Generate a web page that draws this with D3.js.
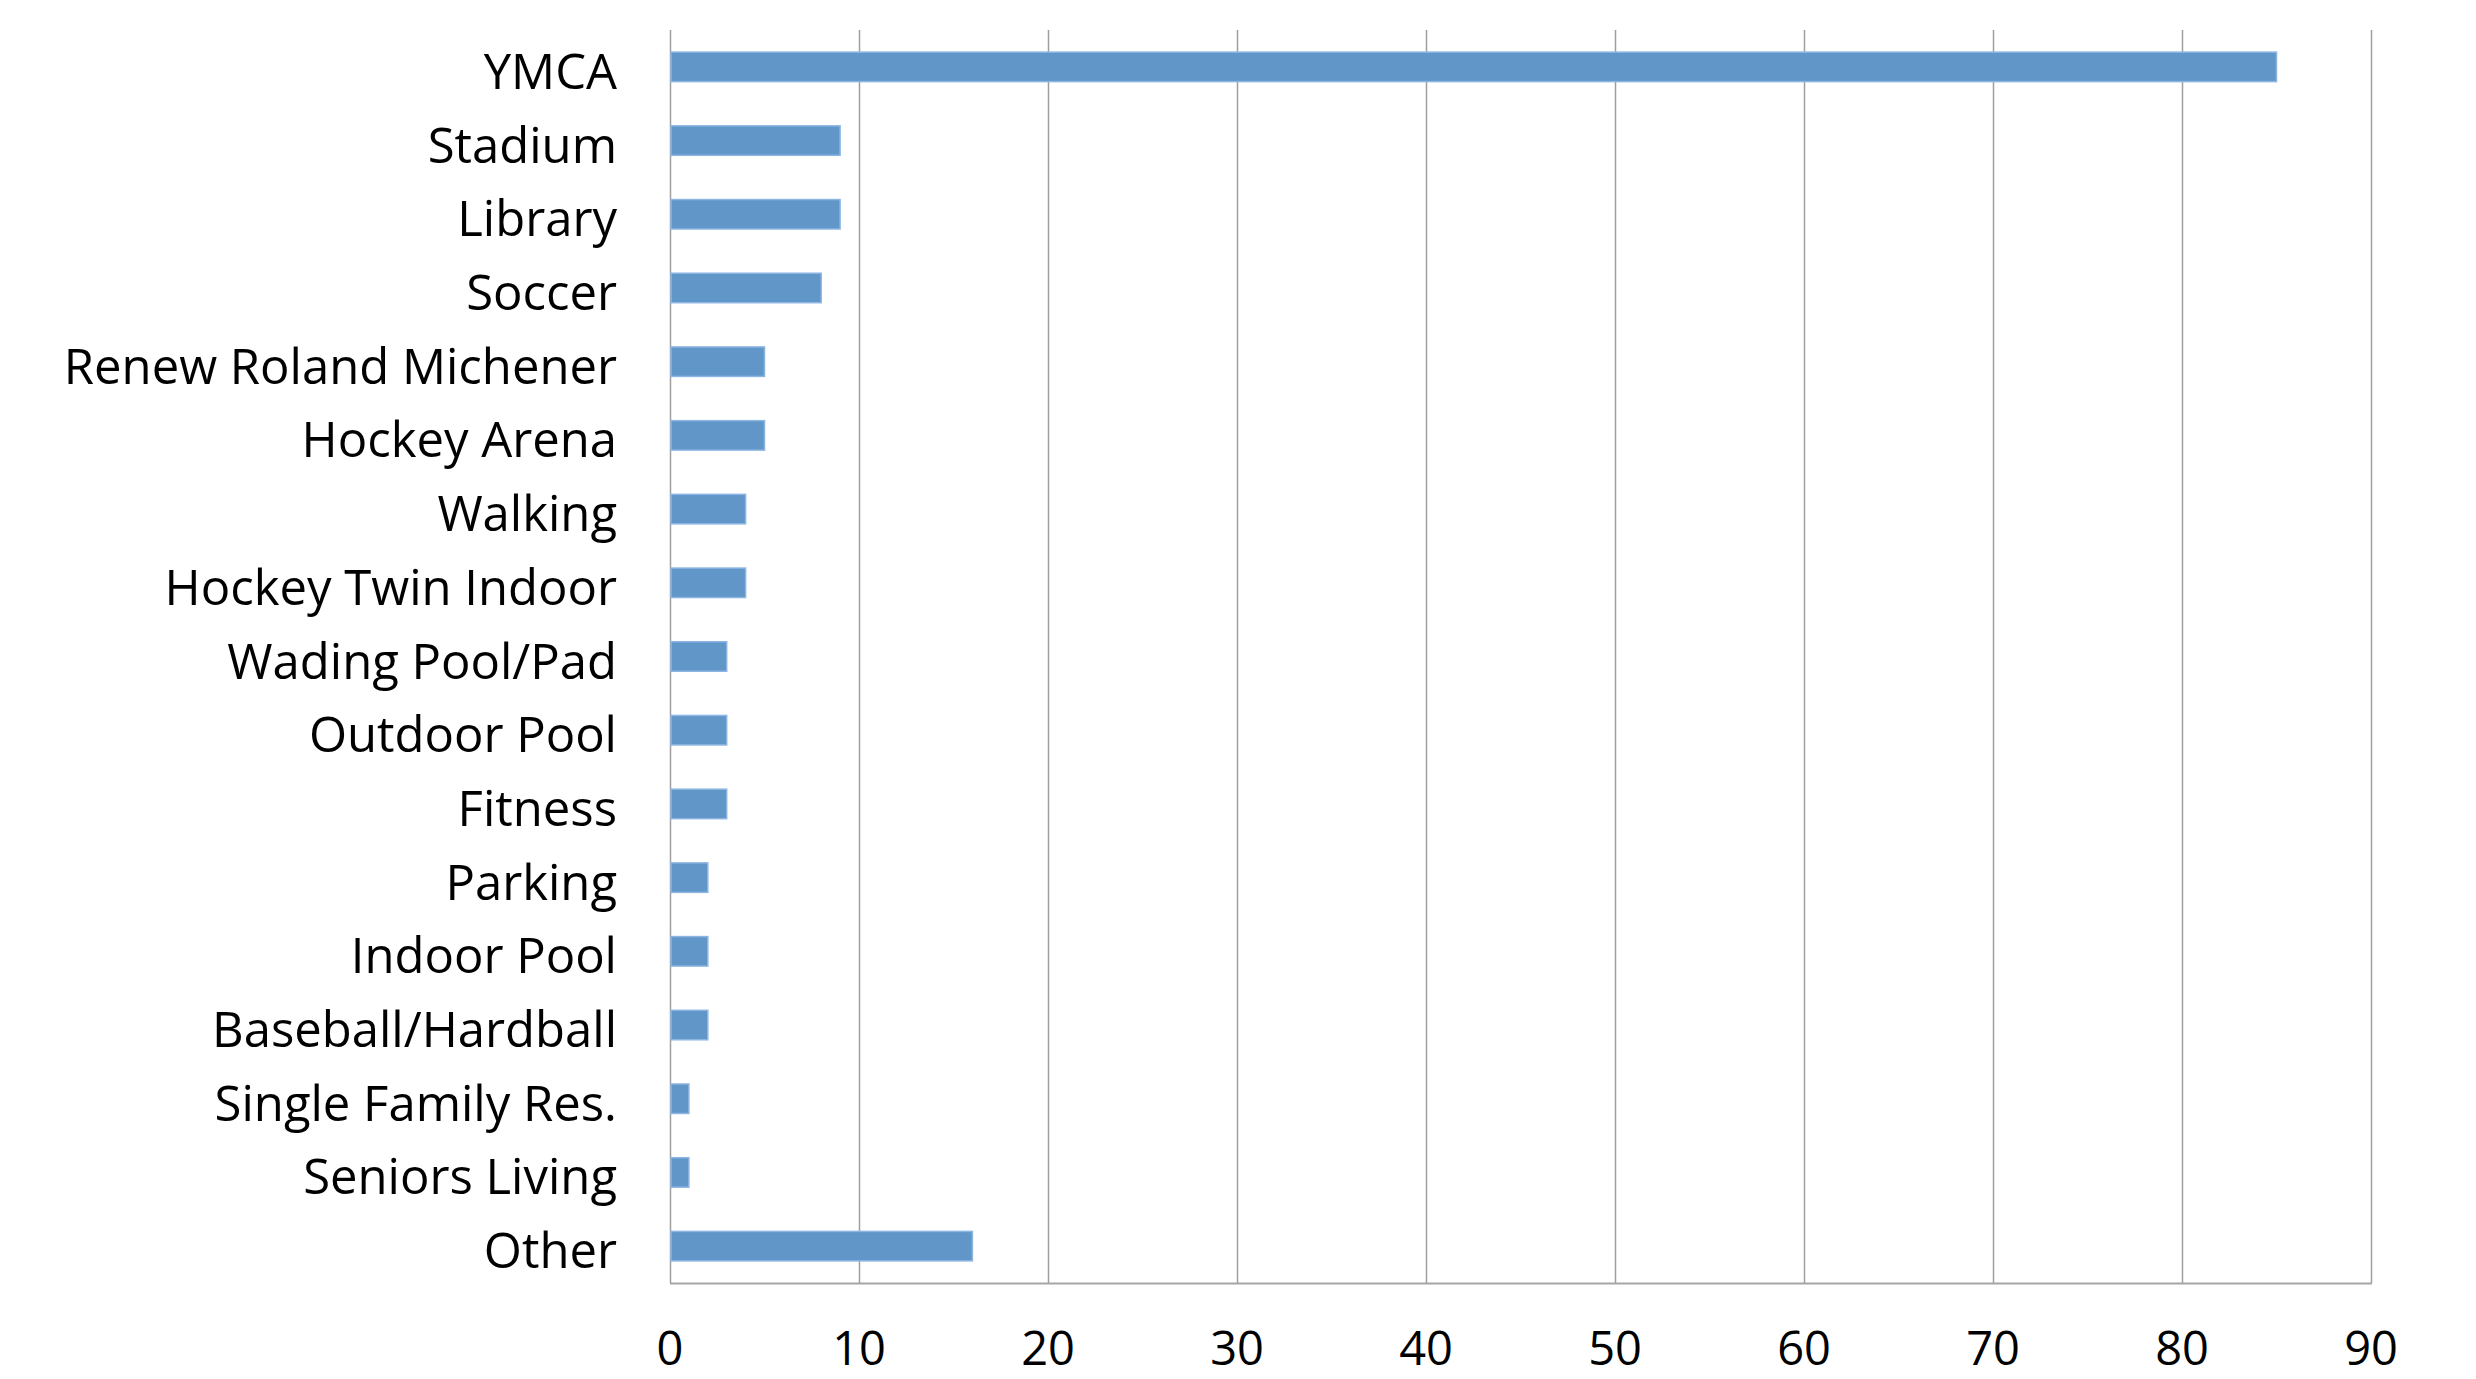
<!DOCTYPE html>
<html><head><meta charset="utf-8">
<script src="https://cdn.jsdelivr.net/npm/d3@7"></script>
<style>body{margin:0;background:#fff}svg{display:block}text{font-family:"Open Sans",sans-serif;fill:#000}</style>
</head><body><svg id="c" width="2476" height="1379"></svg>
<script>
const categories=["YMCA","Stadium","Library","Soccer","Renew Roland Michener","Hockey Arena","Walking","Hockey Twin Indoor","Wading Pool/Pad","Outdoor Pool","Fitness","Parking","Indoor Pool","Baseball/Hardball","Single Family Res.","Seniors Living","Other"];
const values=[85,9,9,8,5,5,4,4,3,3,3,2,2,2,1,1,16];
const tickValues=[0,10,20,30,40,50,60,70,80,90];

const svg=d3.select("#c");
const L=670,R=2371,T=30,B=1283;
const x=d3.scaleLinear().domain([0,90]).range([L,R]);
const y=d3.scaleBand().domain(categories).range([T,B]).paddingInner(0.6).paddingOuter(0.3);

// gridlines
svg.append("g").selectAll("line").data(tickValues).join("line")
 .attr("x1",d=>x(d)+0.5).attr("x2",d=>x(d)+0.5).attr("y1",T).attr("y2",B)
 .attr("stroke","#9f9f9f").attr("stroke-width",1.5);
// bottom axis line
svg.append("line").attr("x1",L).attr("x2",R+1).attr("y1",B+0.5).attr("y2",B+0.5).attr("stroke","#a6a6a6").attr("stroke-width",2);

// bars
svg.append("g").selectAll("rect").data(values).join("rect")
 .attr("x",x(0)+1).attr("y",(d,i)=>y(categories[i]))
 .attr("width",d=>x(d)-x(0)-1).attr("height",y.bandwidth())
 .attr("fill","#6196c9").attr("stroke","#8db5e2").attr("stroke-width",1.5);

// category labels
svg.append("g").selectAll("text").data(categories).join("text")
 .attr("x",617).attr("y",d=>y(d)+y.bandwidth()/2)
 .attr("dy","0.45em").attr("text-anchor","end").attr("font-size",49).text(d=>d);

// tick labels
svg.append("g").selectAll("text").data(tickValues).join("text")
 .attr("x",d=>x(d)).attr("y",1365).attr("text-anchor","middle").attr("font-size",47).text(d=>d);
</script></body></html>
